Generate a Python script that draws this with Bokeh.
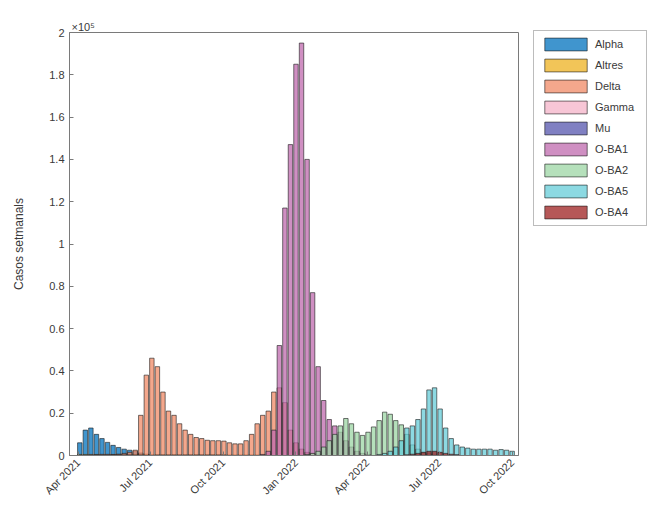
import math
from datetime import datetime, timedelta
from bokeh.plotting import figure
from bokeh.models import (Range1d, FixedTicker, DatetimeTickFormatter, Legend, LegendItem,
                          ColumnDataSource, CustomJSTickFormatter)
from bokeh.embed import file_html
from bokeh.resources import INLINE

# ---------------- data (weekly cases, units of 1e5) ----------------
first_week = datetime(2021, 4, 3)
n_weeks = 79

variant_names = ["Alpha", "Altres", "Delta", "Gamma", "Mu", "O-BA1", "O-BA2", "O-BA5", "O-BA4"]
variant_colors = ["#0072BD", "#EDB120", "#F08A66", "#F4B3C8", "#5656AE",
                  "#BF6AAE", "#9CD6A4", "#66CCD8", "#9E2020"]

# (first week index, values)
alpha_start, alpha_vals = 0, [0.06, 0.12, 0.13, 0.10, 0.08, 0.062, 0.048, 0.038, 0.03, 0.025,
                              0.02, 0.012, 0.006, 0.003]
altres_start, altres_vals = 0, [0.005] * 13 + [0.003] * 22
delta_start, delta_vals = 6, [0.003, 0.006, 0.01, 0.015, 0.025, 0.19, 0.38, 0.46, 0.42, 0.30,
                              0.21, 0.19, 0.15, 0.12, 0.10, 0.085, 0.08, 0.072, 0.07, 0.07,
                              0.068, 0.06, 0.055, 0.055, 0.07, 0.10, 0.15, 0.19, 0.21, 0.30,
                              0.32, 0.25, 0.12, 0.06, 0.03, 0.015, 0.008, 0.004]
gamma_start, gamma_vals = 2, [0.003, 0.004, 0.005, 0.005, 0.004, 0.004, 0.003, 0.003, 0.002, 0.002]
mu_start, mu_vals = 14, [0.002] * 13
ba1_start, ba1_vals = 33, [0.005, 0.02, 0.12, 0.52, 1.17, 1.47, 1.85, 1.95, 1.40, 0.77,
                           0.42, 0.26, 0.17, 0.14, 0.11, 0.07, 0.04, 0.02, 0.01, 0.005]
ba2_start, ba2_vals = 41, [0.005, 0.01, 0.02, 0.04, 0.07, 0.10, 0.14, 0.175, 0.15, 0.11,
                           0.095, 0.11, 0.135, 0.165, 0.205, 0.195, 0.165, 0.145, 0.10, 0.05,
                           0.03, 0.015, 0.008, 0.004]
ba5_start, ba5_vals = 54, [0.005, 0.01, 0.02, 0.04, 0.07, 0.13, 0.14, 0.17, 0.22, 0.31,
                           0.32, 0.22, 0.13, 0.08, 0.05, 0.04, 0.035, 0.03, 0.03, 0.03,
                           0.03, 0.025, 0.028, 0.025, 0.02]
ba4_start, ba4_vals = 59, [0.003, 0.006, 0.01, 0.015, 0.02, 0.02, 0.015, 0.01, 0.006, 0.004]

series = [(alpha_start, alpha_vals), (altres_start, altres_vals), (delta_start, delta_vals),
          (gamma_start, gamma_vals), (mu_start, mu_vals), (ba1_start, ba1_vals),
          (ba2_start, ba2_vals), (ba5_start, ba5_vals), (ba4_start, ba4_vals)]

x_tick_dates = [datetime(2021, 4, 1), datetime(2021, 7, 1), datetime(2021, 10, 1),
                datetime(2022, 1, 1), datetime(2022, 4, 1), datetime(2022, 7, 1),
                datetime(2022, 10, 1)]
y_ticks = [0, 0.2, 0.4, 0.6, 0.8, 1, 1.2, 1.4, 1.6, 1.8, 2]
y_exponent = "×10⁵"

weeks = [first_week + timedelta(days=7 * i) for i in range(n_weeks)]

def full(start, vals):
    out = [0.0] * n_weeks
    for k, v in enumerate(vals):
        if start + k < n_weeks:
            out[start + k] = v
    return out

# ---------------- figure ----------------
FONT = "Liberation Sans"
FRAME_H = 423
p = figure(frame_width=449, frame_height=FRAME_H, x_axis_type="datetime",
           x_range=Range1d(datetime(2021, 3, 21), datetime(2022, 10, 9)),
           y_range=Range1d(0, 2),
           output_backend="svg", toolbar_location=None,
           min_border_left=69, min_border_right=130, min_border_top=32, min_border_bottom=60)
p.xgrid.visible = False
p.ygrid.visible = False
p.outline_line_color = "#7a7a7a"
p.outline_line_width = 1
p.background_fill_color = "white"

p.title.text = y_exponent
p.title.align = "left"
p.title.offset = 2
p.title.text_font = FONT
p.title.text_font_size = "11px"
p.title.text_font_style = "normal"
p.title.text_color = "#3a3a3a"
p.title.standoff = 0

bar_w = 7 * 0.8 * 24 * 3600 * 1000
items = []
for name, color, (start, vals) in zip(variant_names, variant_colors, series):
    src = ColumnDataSource(dict(x=weeks, top=full(start, vals)))
    r = p.vbar(x="x", top="top", bottom=0, width=bar_w, source=src,
               fill_color=color, fill_alpha=0.75, line_color="#1a1a1a", line_width=0.6)
    items.append(LegendItem(label=name, renderers=[r]))

for ax in (p.xaxis[0], p.yaxis[0]):
    ax.axis_line_color = "#7a7a7a"
    ax.major_tick_line_color = "#7a7a7a"
    ax.minor_tick_line_color = None
    ax.major_tick_in = 4
    ax.major_tick_out = 0
    ax.major_label_text_font = FONT
    ax.major_label_text_font_size = "11px"
    ax.major_label_text_color = "#3a3a3a"

p.xaxis.ticker = FixedTicker(ticks=[d.timestamp() * 1000 for d in x_tick_dates])
p.xaxis.formatter = DatetimeTickFormatter(days="%b %Y", months="%b %Y", years="%b %Y",
                                          hours="%b %Y", minutes="%b %Y")
p.xaxis.major_label_orientation = math.pi / 4

p.yaxis.ticker = FixedTicker(ticks=y_ticks)
p.yaxis.formatter = CustomJSTickFormatter(code="return String(Math.round(tick*10)/10)")
p.yaxis.axis_label = "Casos setmanals"
p.yaxis.axis_label_text_font = FONT
p.yaxis.axis_label_text_font_size = "12px"
p.yaxis.axis_label_text_font_style = "normal"
p.yaxis.axis_label_text_color = "#3a3a3a"
p.yaxis.axis_label_standoff = 20

LEG_H = 196
legend = Legend(items=items, location=(15, FRAME_H + 2 - LEG_H), orientation="vertical")
legend.glyph_width = 53
legend.glyph_height = 16
legend.label_height = 16
legend.label_width = 46
legend.spacing = 5
legend.padding = 5
legend.margin = 0
legend.label_standoff = 3
legend.label_text_font = FONT
legend.label_text_font_size = "11px"
legend.label_text_color = "#3a3a3a"
legend.border_line_color = "#7a7a7a"
legend.border_line_width = 1
p.add_layout(legend, "right")

open("out.html", "w").write(file_html(p, INLINE))
